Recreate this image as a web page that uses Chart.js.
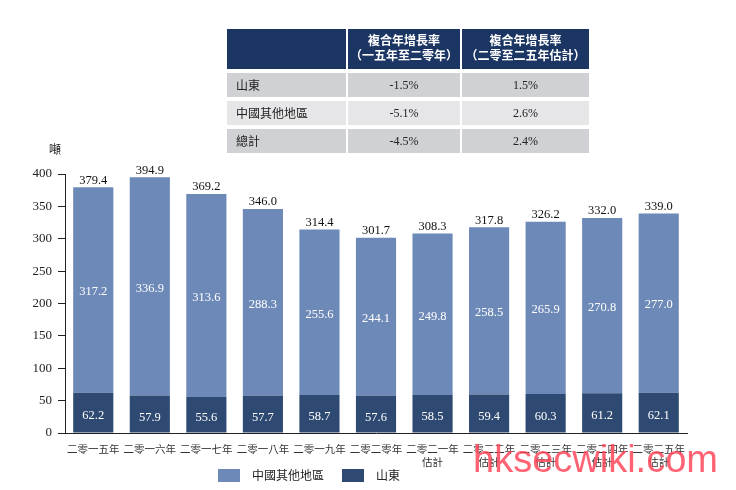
<!DOCTYPE html>
<html>
<head>
<meta charset="utf-8">
<script src="https://cdn.jsdelivr.net/npm/chart.js@4.4.0/dist/chart.umd.min.js"></script>
<style>
  body { margin: 0; background: #fff; }
  #wrap { position: relative; width: 736px; height: 490px; font-family: "Liberation Serif", "Noto Sans CJK TC", serif; }
  #chart { position: absolute; left: 0; top: 0; }
  table.cagr { position: absolute; left: 227px; top: 29px; border-collapse: separate; border-spacing: 2px 4px; margin: -4px -2px; font-size: 12px; }
  table.cagr th { background: #1c3664; color: #fff; font-weight: bold; height: 40px; padding: 0; line-height: 15px; font-size: 12px; }
  table.cagr td { height: 24px; padding: 0; text-align: center; color: #222; }
  table.cagr td.name { text-align: left; padding-left: 9px; }
  table.cagr tr.dark td { background: #d0d1d5; }
  table.cagr tr.light td { background: #e6e6e8; }
  #unit { position: absolute; left: 49px; top: 140px; font-size: 12px; color: #222; }
  #legend { position: absolute; top: 466px; left: 218px; font-size: 12px; color: #222; }
  #legend span.box { display: inline-block; width: 22px; height: 13px; vertical-align: -2px; margin-right: 12px; }
  #legend span.item { margin-right: 18px; }
  #mark { position: absolute; left: 473px; top: 440px; line-height: 1; font-family: "Liberation Sans", Arial, sans-serif; font-size: 38px; color: rgba(255, 70, 90, 0.85); }
</style>
</head>
<body>
<div id="wrap">
  <canvas id="chart" width="736" height="490"></canvas>
  <table class="cagr" id="cagr"></table>
  <div id="unit">噸</div>
  <div id="legend"></div>
  <div id="mark">hksecwiki.com</div>
</div>
<script>
// chart data
const years = [
  ['二零一五年'], ['二零一六年'], ['二零一七年'], ['二零一八年'], ['二零一九年'], ['二零二零年'],
  ['二零二一年', '估計'], ['二零二二年', '估計'], ['二零二三年', '估計'], ['二零二四年', '估計'], ['二零二五年', '估計']
];
const shandong = [62.2, 57.9, 55.6, 57.7, 58.7, 57.6, 58.5, 59.4, 60.3, 61.2, 62.1];
const otherChina = [317.2, 336.9, 313.6, 288.3, 255.6, 244.1, 249.8, 258.5, 265.9, 270.8, 277.0];
const totals = [379.4, 394.9, 369.2, 346.0, 314.4, 301.7, 308.3, 317.8, 326.2, 332.0, 339.0];

// CAGR table
const cagrHeaders = ['複合年增長率<br>（一五年至二零年）', '複合年增長率<br>（二零至二五年估計）'];
const cagrRows = ['山東', '中國其他地區', '總計'];
const cagrPast = ['-1.5%', '-5.1%', '-4.5%'];
const cagrFuture = ['1.5%', '2.6%', '2.4%'];

const darkBlue = '#2f4a72';
const lightBlue = '#6d89b7';

let html = '<tr><th style="width:119px"></th><th style="width:112px">' + cagrHeaders[0] +
  '</th><th style="width:127px">' + cagrHeaders[1] + '</th></tr>';
cagrRows.forEach(function (name, i) {
  html += '<tr class="' + (i === 1 ? 'light' : 'dark') + '"><td class="name">' + name + '</td><td>' +
    cagrPast[i] + '</td><td>' + cagrFuture[i] + '</td></tr>';
});
document.getElementById('cagr').innerHTML = html;

document.getElementById('legend').innerHTML =
  '<span class="item"><span class="box" style="background:' + lightBlue + '"></span>中國其他地區</span>' +
  '<span class="item"><span class="box" style="background:' + darkBlue + '"></span>山東</span>';

// value labels drawn on the bars
const barLabels = {
  id: 'barLabels',
  afterDatasetsDraw(chart) {
    const ctx = chart.ctx;
    const y = chart.scales.y;
    ctx.save();
    ctx.textAlign = 'center';
    ctx.textBaseline = 'middle';
    ctx.font = '12.5px "Liberation Serif", serif';
    const bottomMeta = chart.getDatasetMeta(0);
    bottomMeta.data.forEach(function (bar, i) {
      ctx.fillStyle = '#fff';
      ctx.fillText(shandong[i].toFixed(1), bar.x, y.getPixelForValue(shandong[i] / 2) + 3);
      ctx.fillText(otherChina[i].toFixed(1), bar.x, y.getPixelForValue(shandong[i] + otherChina[i] / 2) + 2);
      ctx.fillStyle = '#111';
      ctx.fillText(totals[i].toFixed(1), bar.x, y.getPixelForValue(totals[i]) - 7);
    });
    ctx.restore();
  }
};

const ctx = document.getElementById('chart').getContext('2d');
const myChart = new Chart(ctx, {
  type: 'bar',
  data: {
    labels: years,
    datasets: [
      { label: '山東', data: shandong, backgroundColor: darkBlue, barPercentage: 0.71, categoryPercentage: 1 },
      { label: '中國其他地區', data: otherChina, backgroundColor: lightBlue, barPercentage: 0.71, categoryPercentage: 1 }
    ]
  },
  options: {
    responsive: false,
    animation: false,
    layout: { padding: { left: 0, top: 174, right: 49, bottom: 0 } },
    plugins: { legend: { display: false }, tooltip: { enabled: false } },
    scales: {
      x: {
        stacked: true,
        grid: { display: false },
        border: { color: '#222', width: 1 },
        ticks: { color: '#333', font: { size: 10.5, family: '"Noto Sans CJK TC", sans-serif' }, padding: 2, maxRotation: 0 },
        afterFit: function (scale) { scale.height = 57; }
      },
      y: {
        stacked: true,
        min: 0,
        max: 400,
        grid: { drawOnChartArea: false, tickLength: 7, color: '#222' },
        border: { color: '#222', width: 1 },
        ticks: { stepSize: 50, color: '#222', padding: 6, font: { size: 13, family: '"Liberation Serif", serif' } },
        afterFit: function (scale) { scale.width = 65; }
      }
    }
  },
  plugins: [barLabels]
});
</script>
</body>
</html>
